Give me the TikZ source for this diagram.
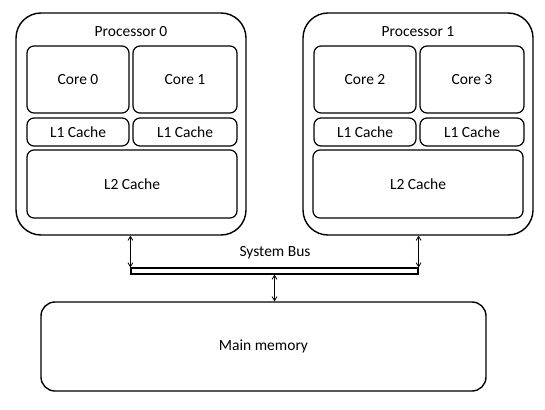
\documentclass[tikz,border=0pt]{standalone}
\usepackage{fontspec}
\setmainfont{Carlito}
\usepackage{tikz}
\usetikzlibrary{arrows.meta, positioning, calc}

\begin{document}
\begin{tikzpicture}[
  x=1pt, y=-1pt,
  proc/.style={draw, line width=1.4pt, rounded corners=25pt, minimum width=230pt, minimum height=222pt, inner sep=0pt},
  ubox/.style={draw, line width=1.2pt, rounded corners=7pt, inner sep=0pt, font=\fontsize{15.5}{17}\selectfont},
  lbl/.style={font=\fontsize{15.5}{17}\selectfont},
  arrow/.style={{Straight Barb[length=4pt,width=5pt]}-{Straight Barb[length=4pt,width=5pt]}, line width=0.8pt}
]
  \useasboundingbox (0,0) rectangle (545,409);

  % processors
  \node[proc] (p0) at (131,124) {};
  \node[proc] (p1) at (418,124) {};
  \node[lbl] (p0lbl) at (131,32) {Processor 0};
  \node[lbl] (p1lbl) at (418,32) {Processor 1};

  % cores
  \node[ubox, minimum width=102pt, minimum height=67pt] (core0) at (78,79.5)  {Core 0};
  \node[ubox, minimum width=104pt, minimum height=67pt] (core1) at (185,79.5) {Core 1};
  \node[ubox, minimum width=102pt, minimum height=67pt] (core2) at (365,79.5) {Core 2};
  \node[ubox, minimum width=104pt, minimum height=67pt] (core3) at (472,79.5) {Core 3};

  % caches
  \node[ubox, minimum width=102pt, minimum height=28pt] (l1a) at (78,132)  {L1 Cache};
  \node[ubox, minimum width=104pt, minimum height=28pt] (l1b) at (185,132) {L1 Cache};
  \node[ubox, minimum width=102pt, minimum height=28pt] (l1c) at (365,132) {L1 Cache};
  \node[ubox, minimum width=104pt, minimum height=28pt] (l1d) at (472,132) {L1 Cache};
  \node[ubox, minimum width=210pt, minimum height=68pt] (l2a) at (132,184) {L2 Cache};
  \node[ubox, minimum width=210pt, minimum height=68pt] (l2b) at (418,184) {L2 Cache};

  % bus and memory
  \node[draw, line width=1.2pt, minimum width=287pt, minimum height=6pt, inner sep=0pt] (bus) at (274.5,271) {};
  \node[lbl] (buslbl) at (275,253) {System Bus};
  \node[draw, line width=1.4pt, rounded corners=14pt, minimum width=445pt, minimum height=89pt, font=\fontsize{15.5}{17}\selectfont] (mem) at (263.5,346.5) {Main memory};

  \draw[arrow] (bus.north west) -- (bus.north west |- p0.south);
  \draw[arrow] (bus.north east) -- (bus.north east |- p1.south);
  \draw[arrow] (bus.south) -- (bus.south |- mem.north);
\end{tikzpicture}
\end{document}
